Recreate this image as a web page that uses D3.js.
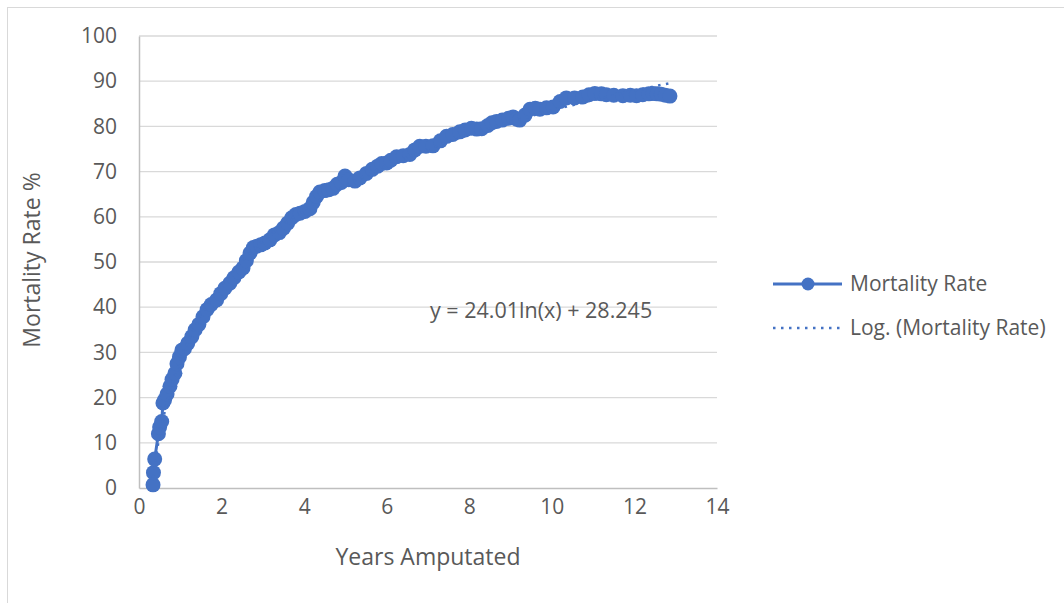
<!DOCTYPE html>
<html>
<head>
<meta charset="utf-8">
<script src="https://cdnjs.cloudflare.com/ajax/libs/d3/7.8.5/d3.min.js"></script>
<style>
  body { margin: 0; background: #fff; }
  text { font-family: "Open Sans", sans-serif; fill: #595959; }
</style>
</head>
<body>
<div id="chart"></div>
<script>
// years since amputation
var years = [
  0.34, 0.35, 0.38, 0.47, 0.50, 0.55, 0.58, 0.62, 0.68, 0.75,
  0.80, 0.87, 0.92, 0.98, 1.04, 1.10, 1.18, 1.28, 1.36, 1.45,
  1.55, 1.65, 1.75, 1.88, 1.98, 2.08, 2.20, 2.30, 2.42, 2.52,
  2.60, 2.69, 2.77, 2.85, 2.95, 3.05, 3.17, 3.28, 3.40, 3.50,
  3.60, 3.70, 3.80, 3.90, 4.02, 4.14, 4.22, 4.30, 4.38, 4.50,
  4.60, 4.70, 4.80, 4.90, 4.99, 5.08, 5.23, 5.35, 5.51, 5.65,
  5.78, 5.88, 6.00, 6.10, 6.24, 6.40, 6.56, 6.68, 6.80, 6.95,
  7.12, 7.30, 7.45, 7.60, 7.77, 7.90, 8.05, 8.18, 8.30, 8.45,
  8.55, 8.66, 8.80, 8.95, 9.06, 9.15, 9.22, 9.35, 9.47, 9.60,
  9.71, 9.87, 10.03, 10.20, 10.35, 10.55, 10.75, 10.90, 11.04, 11.20,
  11.32, 11.50, 11.72, 11.90, 12.05, 12.20, 12.35, 12.45, 12.55, 12.65,
  12.75, 12.86
];
// mortality rate %
var rates = [
  0.7, 3.4, 6.4, 12.0, 13.5, 14.7, 18.8, 19.5, 20.8, 22.5,
  24.0, 25.4, 27.5, 29.0, 30.5, 30.8, 32.0, 33.5, 35.0, 36.2,
  37.9, 39.5, 40.6, 41.6, 43.0, 44.2, 45.3, 46.5, 47.8, 48.7,
  50.3, 52.0, 53.2, 53.5, 53.8, 54.2, 54.9, 56.0, 56.5, 57.5,
  58.6, 59.8, 60.5, 60.8, 61.2, 61.8, 63.2, 64.5, 65.5, 65.8,
  66.0, 66.3, 67.2, 67.6, 69.0, 68.2, 67.9, 68.6, 69.6, 70.5,
  71.2, 71.8, 71.9, 72.5, 73.3, 73.5, 73.8, 74.8, 75.6, 75.6,
  75.7, 76.8, 77.8, 78.2, 78.8, 79.2, 79.6, 79.4, 79.5, 80.2,
  80.8, 81.1, 81.4, 81.8, 82.1, 81.6, 81.4, 82.5, 83.8, 84.0,
  83.8, 84.1, 84.3, 85.5, 86.3, 86.3, 86.5, 87.0, 87.3, 87.2,
  87.0, 86.9, 86.8, 86.9, 86.8, 87.0, 87.2, 87.3, 87.2, 87.1,
  86.9, 86.7
];
var xTicks = [0, 2, 4, 6, 8, 10, 12, 14];
var yTicks = [0, 10, 20, 30, 40, 50, 60, 70, 80, 90, 100];
var trendA = 24.01, trendB = 28.245;

var width = 1064, height = 603;
var blue = '#4472c4';

var svg = d3.select('#chart').append('svg')
  .attr('width', width)
  .attr('height', height);

// chart frame (runs off the page on the right and bottom)
svg.append('rect')
  .attr('x', 7.5).attr('y', 7.5)
  .attr('width', 1200).attr('height', 800)
  .attr('fill', 'none')
  .attr('stroke', '#d9d9d9');

var x = d3.scaleLinear().domain([0, 14]).range([139, 717]);
var y = d3.scaleLinear().domain([0, 100]).range([488, 36]);

// gridlines
svg.append('g').selectAll('line')
  .data(yTicks.slice(1))
  .enter().append('line')
  .attr('x1', x(0)).attr('x2', x(14))
  .attr('y1', function(d){ return y(d); })
  .attr('y2', function(d){ return y(d); })
  .attr('stroke', '#d9d9d9')
  .attr('stroke-width', 1.3);

// axes
var xAxis = svg.append('g')
  .attr('transform', 'translate(0,' + y(0) + ')')
  .call(d3.axisBottom(x).tickValues(xTicks).tickSize(0).tickPadding(20));
var yAxis = svg.append('g')
  .attr('transform', 'translate(' + x(0) + ',0)')
  .call(d3.axisLeft(y).tickValues(yTicks).tickSize(0).tickPadding(22));
[xAxis, yAxis].forEach(function(g){
  g.select('.domain').attr('stroke', '#bfbfbf').attr('stroke-width', 1.5);
  g.selectAll('text')
    .style('font-family', '"Open Sans", sans-serif')
    .style('font-size', '21px')
    .attr('fill', '#595959');
});
xAxis.selectAll('text').attr('dy', '0.3em');

var pts = years.map(function(d, i){ return [d, rates[i]]; });

// series line + markers
svg.append('path')
  .datum(pts)
  .attr('fill', 'none')
  .attr('stroke', blue)
  .attr('stroke-width', 3)
  .attr('d', d3.line()
    .x(function(d){ return x(d[0]); })
    .y(function(d){ return y(d[1]); }));

svg.append('g').selectAll('circle')
  .data(pts)
  .enter().append('circle')
  .attr('cx', function(d){ return x(d[0]); })
  .attr('cy', function(d){ return y(d[1]); })
  .attr('r', 7.5)
  .attr('fill', blue);

// logarithmic trendline
var trend = d3.range(0, 201).map(function(i){
  var t = years[0] + (years[years.length - 1] - years[0]) * i / 200;
  return [t, trendA * Math.log(t) + trendB];
});
svg.append('path')
  .datum(trend)
  .attr('fill', 'none')
  .attr('stroke', blue)
  .attr('stroke-width', 2.5)
  .attr('stroke-dasharray', '2.5 5.5')
  .attr('d', d3.line()
    .x(function(d){ return x(d[0]); })
    .y(function(d){ return y(d[1]); }));

svg.append('text')
  .attr('x', 430).attr('y', 310).attr('dy', '0.35em')
  .style('font-size', '21.5px')
  .text('y = ' + trendA + 'ln(x) + ' + trendB);

// axis titles
svg.append('text')
  .attr('transform', 'translate(32,' + (y(50) - 2) + ') rotate(-90)')
  .attr('text-anchor', 'middle').attr('dy', '0.35em')
  .style('font-size', '23px')
  .text('Mortality Rate %');
svg.append('text')
  .attr('x', 428).attr('y', 557).attr('dy', '0.35em')
  .attr('text-anchor', 'middle')
  .style('font-size', '23px')
  .text('Years Amputated');

// legend
var leg = svg.append('g');
leg.append('line')
  .attr('x1', 773).attr('x2', 842).attr('y1', 284).attr('y2', 284)
  .attr('stroke', blue).attr('stroke-width', 3);
leg.append('circle')
  .attr('cx', 808).attr('cy', 284).attr('r', 6.5).attr('fill', blue);
leg.append('text')
  .attr('x', 850).attr('y', 284).attr('dy', '0.35em')
  .style('font-size', '21px')
  .text('Mortality Rate');
leg.append('line')
  .attr('x1', 773).attr('x2', 840).attr('y1', 328).attr('y2', 328)
  .attr('stroke', blue).attr('stroke-width', 2.5)
  .attr('stroke-dasharray', '2.5 5.5');
leg.append('text')
  .attr('x', 850).attr('y', 328).attr('dy', '0.35em')
  .style('font-size', '21px')
  .text('Log. (Mortality Rate)');
</script>
</body>
</html>
